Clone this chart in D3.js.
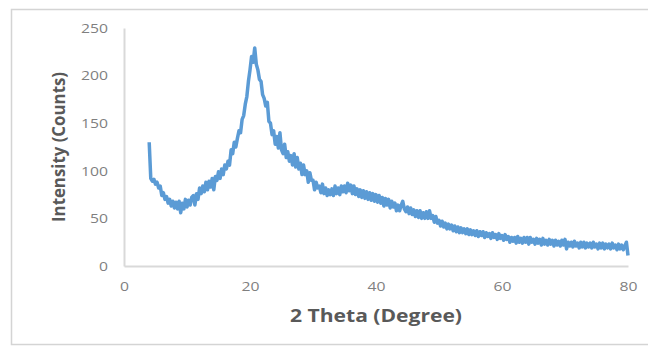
<!DOCTYPE html>
<html>
<head>
<meta charset="utf-8">
<script src="https://cdn.jsdelivr.net/npm/d3@7"></script>
<style>
  html, body { margin: 0; padding: 0; background: #fff; }
  svg { display: block; }
  text { font-family: "Open Sans", "Liberation Sans", sans-serif; }
</style>
</head>
<body>
<svg id="chart" width="648" height="347"></svg>
<script>
// scan starts at 4 degrees, one reading every 0.25 degree
const thetaStart = 4;
const thetaStep = 0.25;

// intensity, four readings per degree
const intensity = [
  130, 92, 89, 91,    // 4
  86, 88, 82, 84,     // 5
  74, 77, 70, 73,     // 6
  66, 70, 63, 68,     // 7
  61, 67, 60, 68,     // 8
  56, 66, 60, 70,     // 9
  62, 69, 64, 72,     // 10
  74, 64, 76, 70,     // 11
  82, 76, 84, 78,     // 12
  88, 80, 89, 83,     // 13
  92, 80, 94, 90,     // 14
  99, 92, 102, 96,    // 15
  106, 102, 110, 106, // 16
  122, 118, 130, 125, // 17
  134, 142, 140, 154, // 18
  158, 170, 178, 194, // 19
  206, 220, 214, 229, // 20
  212, 206, 196, 194, // 21
  180, 176, 168, 172, // 22
  152, 150, 138, 142, // 23
  128, 136, 124, 140, // 24
  122, 118, 128, 114, // 25
  120, 110, 116, 106, // 26
  118, 104, 114, 102, // 27
  108, 96, 106, 96,   // 28
  100, 88, 98, 90,    // 29
  90, 80, 88, 82,     // 30
  84, 77, 86, 76,     // 31
  82, 74, 80, 75,     // 32
  81, 74, 84, 76,     // 33
  82, 75, 84, 78,     // 34
  84, 77, 87, 79,     // 35
  85, 76, 84, 75,     // 36
  81, 73, 80, 72,     // 37
  79, 71, 78, 70,     // 38
  77, 69, 76, 68,     // 39
  75, 67, 74, 66,     // 40
  72, 63, 71, 64,     // 41
  70, 61, 68, 62,     // 42
  66, 58, 64, 58,     // 43
  64, 68, 60, 57,     // 44
  62, 55, 61, 54,     // 45
  59, 52, 58, 51,     // 46
  58, 50, 56, 50,     // 47
  57, 50, 58, 50,     // 48
  53, 46, 52, 45,     // 49
  48, 42, 47, 41,     // 50
  45, 39, 44, 39,     // 51
  43, 37, 42, 36,     // 52
  41, 35, 40, 35,     // 53
  39, 34, 39, 33,     // 54
  38, 33, 37, 32,     // 55
  37, 31, 36, 32,     // 56
  36, 30, 35, 31,     // 57
  34, 29, 35, 30,     // 58
  33, 28, 34, 29,     // 59
  32, 27, 33, 28,     // 60
  31, 25, 30, 26,     // 61
  30, 24, 31, 25,     // 62
  29, 24, 30, 25,     // 63
  30, 23, 30, 25,     // 64
  28, 23, 29, 24,     // 65
  28, 22, 29, 23,     // 66
  27, 22, 28, 23,     // 67
  27, 21, 27, 22,     // 68
  26, 21, 27, 22,     // 69
  28, 18, 25, 21,     // 70
  25, 20, 26, 21,     // 71
  24, 19, 25, 20,     // 72
  25, 19, 24, 20,     // 73
  24, 19, 25, 20,     // 74
  23, 18, 24, 19,     // 75
  24, 18, 23, 19,     // 76
  23, 18, 24, 19,     // 77
  22, 17, 23, 18,     // 78
  22, 17, 21, 25,     // 79
  11                  // 80
];

const xTicks = [0, 20, 40, 60, 80];
const yTicks = [0, 50, 100, 150, 200, 250];

const svg = d3.select("#chart");

const margin = {top: 28, right: 20, bottom: 81, left: 124};
const width = 648, height = 347;

const x = d3.scaleLinear().domain([0, 80]).range([margin.left, width - margin.right]);
const y = d3.scaleLinear().domain([0, 250]).range([height - margin.bottom, margin.top]);

// chart frame
svg.append("rect")
    .attr("x", 11.5).attr("y", 9.5)
    .attr("width", 648).attr("height", 335)
    .attr("fill", "none")
    .attr("stroke", "#d4d4d4")
    .attr("stroke-width", 1.5);

// axes, drawn without tick marks like the source
const xAxis = svg.append("g")
    .attr("transform", `translate(0,${y(0)})`)
    .call(d3.axisBottom(x).tickValues(xTicks).tickSize(0).tickPadding(15));

const yAxis = svg.append("g")
    .attr("transform", `translate(${x(0)},0)`)
    .call(d3.axisLeft(y).tickValues(yTicks).tickSize(0).tickPadding(16));

// the source font is wide and short, so stretch the digits a little
[xAxis, yAxis].forEach(g => {
    g.select(".domain").attr("stroke", "#d9d9d9").attr("stroke-width", 2);
    g.selectAll("text")
        .attr("fill", "#7f7f7f")
        .style("font-size", "13.5px")
        .attr("textLength", d => String(d).length * 9)
        .attr("lengthAdjust", "spacingAndGlyphs");
});

// the pattern
const line = d3.line()
    .x((d, i) => x(thetaStart + i * thetaStep))
    .y(d => y(d));

svg.append("path")
    .datum(intensity)
    .attr("fill", "none")
    .attr("stroke", "#5b9bd5")
    .attr("stroke-width", 3.5)
    .attr("stroke-linejoin", "round")
    .attr("d", line);

// axis titles
svg.append("text")
    .attr("x", (x(0) + x(80)) / 2)
    .attr("y", 322)
    .attr("text-anchor", "middle")
    .attr("fill", "#595959")
    .style("font-size", "17px")
    .style("font-weight", "bold")
    .attr("textLength", 172)
    .attr("lengthAdjust", "spacingAndGlyphs")
    .text("2 Theta (Degree)");

svg.append("text")
    .attr("transform", `translate(65,${(y(0) + y(250)) / 2}) rotate(-90)`)
    .attr("text-anchor", "middle")
    .attr("fill", "#595959")
    .style("font-size", "17px")
    .style("font-weight", "bold")
    .attr("textLength", 150)
    .attr("lengthAdjust", "spacingAndGlyphs")
    .text("Intensity (Counts)");
</script>
</body>
</html>
